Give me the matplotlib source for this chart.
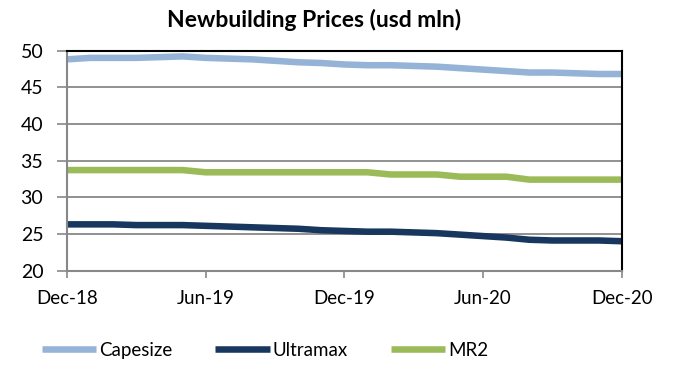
import matplotlib.pyplot as plt
import pandas as pd

plt.rcParams['font.family'] = ['Lato', 'DejaVu Sans']

title = "Newbuilding Prices (usd mln)"
months = pd.date_range("2018-12-01", "2020-12-01", freq="MS")
x_ticks = ["Dec-18", "Jun-19", "Dec-19", "Jun-20", "Dec-20"]

# monthly prices, usd mln
capesize = [48.8, 49.0, 49.0, 49.0, 49.1, 49.2, 49.0, 48.9, 48.8, 48.6, 48.4, 48.3, 48.1,
            48.0, 48.0, 47.9, 47.8, 47.6, 47.4, 47.2, 47.0, 47.0, 46.9, 46.8, 46.8]
ultramax = [26.3, 26.3, 26.3, 26.2, 26.2, 26.2, 26.1, 26.0, 25.9, 25.8, 25.7, 25.5, 25.4,
            25.3, 25.3, 25.2, 25.1, 24.9, 24.7, 24.5, 24.2, 24.1, 24.1, 24.1, 24.0]
mr2 = [33.7, 33.7, 33.7, 33.7, 33.7, 33.7, 33.4, 33.4, 33.4, 33.4, 33.4, 33.4, 33.4,
       33.4, 33.1, 33.1, 33.1, 32.8, 32.8, 32.8, 32.4, 32.4, 32.4, 32.4, 32.4]

series = [("Capesize", capesize, "#95B3D7"),
          ("Ultramax", ultramax, "#17375E"),
          ("MR2", mr2, "#9BBB59")]

fig = plt.figure(figsize=(6.76, 3.8), dpi=100)
ax = fig.add_axes([0.099, 0.288, 0.821, 0.579])

x = list(range(len(months)))
for name, y, color in series:
    ax.plot(x, y, color=color, linewidth=4.7, label=name, solid_capstyle="butt")

ax.set_xlim(0, len(months) - 1)
ax.set_ylim(20, 50)
ax.set_yticks(range(20, 51, 5))
ax.set_xticks(range(0, len(months), 6))
ax.set_xticklabels(x_ticks)
ax.tick_params(axis="y", labelsize=14, length=7, width=1.2, color="#888888", pad=10)
ax.tick_params(axis="x", labelsize=13.5, length=5, width=1.2, color="#888888", pad=9)
ax.grid(axis="y", color="#888888", linewidth=1.3)
ax.set_axisbelow(True)

for side in ["left", "bottom"]:
    ax.spines[side].set_color("#888888")
    ax.spines[side].set_linewidth(1.5)
for side in ["top", "right"]:
    ax.spines[side].set_color("black")
    ax.spines[side].set_linewidth(1.5)

fig.text(0.464, 0.948, title, ha="center", va="center", fontsize=16.5, fontweight="bold")

fig.legend(loc="lower center", bbox_to_anchor=(0.392, 0.012), ncol=3, frameon=False,
           fontsize=13.5, handlelength=2.9, handletextpad=0.15, columnspacing=2.3)

fig.savefig("out.png", dpi=100)
